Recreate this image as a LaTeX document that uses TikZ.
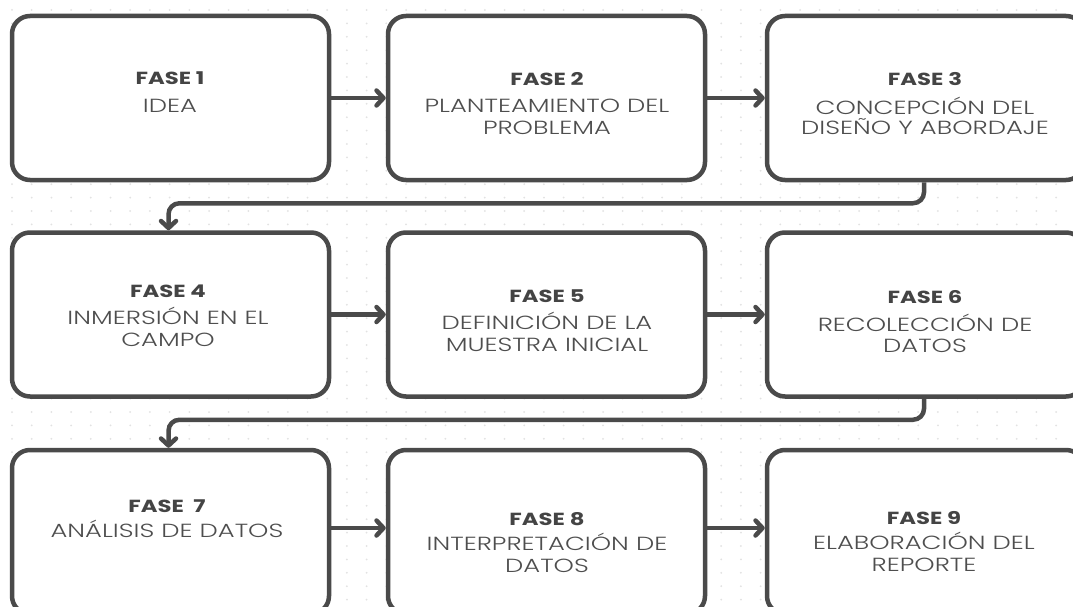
\documentclass[tikz,border=0pt]{standalone}
\usepackage{fontspec}
\usepackage{graphicx}
\setmainfont{Poppins}
\newfontfamily\bodyfont{Poppins Light}
\usetikzlibrary{arrows.meta}
\definecolor{strokec}{HTML}{4A4A4A}
\definecolor{titlec}{HTML}{444444}
\definecolor{bodyc}{HTML}{4E4E4E}
\definecolor{dotc}{HTML}{E2E2E2}
\tikzset{
  box/.style={draw=strokec, line width=4.5pt, fill=white, rounded corners=18pt,
    minimum width=317pt, minimum height=164pt, inner sep=0pt},
  ttl/.style={anchor=base, inner sep=0pt, text=titlec,
    font=\bfseries\fontsize{17.5}{20}\selectfont},
  bdy/.style={anchor=base, inner sep=0pt, text=bodyc,
    font=\bodyfont\fontsize{19}{22}\selectfont},
  arr/.style={draw=strokec, line width=4.5pt,
    -{Straight Barb[length=7pt,width=15pt,line cap=round,line join=round]}},
}
\newcommand{\wtitle}[1]{\scalebox{1.3}[1]{#1}}
\newcommand{\wbody}[1]{\scalebox{1.36}[1]{#1}}
\begin{document}
\begin{tikzpicture}[x=1pt,y=-1pt]
\useasboundingbox (0,0) rectangle (1073,607);
\clip (0,0) rectangle (1073,607);
\fill[white] (0,0) rectangle (1073,607);
\foreach \i in {0,...,54}{
  \foreach \j in {0,...,45}{
    \fill[dotc] (12+\i*19.7, 10+\j*13.4) circle (1);
  }
}
% boxes
\node[box] (b1) at (170.5,98) {};
\node[box] (b2) at (546.5,98) {};
\node[box] (b3) at (925.5,98) {};
\node[box] (b4) at (170.5,314.5) {};
\node[box] (b5) at (546.5,314.5) {};
\node[box] (b6) at (925.5,314.5) {};
\node[box] (b7) at (170.5,532) {};
\node[box] (b8) at (546.5,532) {};
\node[box] (b9) at (925.5,532) {};
% texts
\node[ttl] (t1) at (170,85) {\wtitle{FASE 1}};
\node[bdy] (t1a) at (170,113) {\wbody{IDEA}};
\node[ttl] (t2) at (547,86) {\wtitle{FASE 2}};
\node[bdy] (t2a) at (547,113) {\wbody{PLANTEAMIENTO DEL}};
\node[bdy] (t2b) at (547,135) {\wbody{PROBLEMA}};
\node[ttl] (t3) at (925,86) {\wtitle{FASE 3}};
\node[bdy] (t3a) at (925,114) {\wbody{CONCEPCIÓN DEL}};
\node[bdy] (t3b) at (925,135) {\wbody{DISEÑO Y ABORDAJE}};
\node[ttl] (t4) at (168,297) {\wtitle{FASE 4}};
\node[bdy] (t4a) at (168,324) {\wbody{INMERSIÓN EN EL}};
\node[bdy] (t4b) at (168,346) {\wbody{CAMPO}};
\node[ttl] (t5) at (547,302) {\wtitle{FASE 5}};
\node[bdy] (t5a) at (547,329) {\wbody{DEFINICIÓN DE LA}};
\node[bdy] (t5b) at (547,351) {\wbody{MUESTRA INICIAL}};
\node[ttl] (t6) at (925,303) {\wtitle{FASE 6}};
\node[bdy] (t6a) at (925,331) {\wbody{RECOLECCIÓN DE}};
\node[bdy] (t6b) at (925,352) {\wbody{DATOS}};
\node[ttl] (t7) at (167,512) {\wtitle{FASE\ \ 7}};
\node[bdy] (t7a) at (167,537) {\wbody{ANÁLISIS DE DATOS}};
\node[ttl] (t8) at (547,525) {\wtitle{FASE 8}};
\node[bdy] (t8a) at (547,550) {\wbody{INTERPRETACIÓN DE}};
\node[bdy] (t8b) at (547,572) {\wbody{DATOS}};
\node[ttl] (t9) at (924,524) {\wtitle{FASE 9}};
\node[bdy] (t9a) at (924,549) {\wbody{ELABORACIÓN DEL}};
\node[bdy] (t9b) at (924,571) {\wbody{REPORTE}};
% connectors
\draw[arr] (b1.east) -- (b2.west);
\draw[arr] (b2.east) -- (b3.west);
\draw[arr] (b4.east) -- (b5.west);
\draw[arr] (b5.east) -- (b6.west);
\draw[arr] ([yshift=4pt]b7.east) -- ([yshift=4pt]b8.west);
\draw[arr] ([yshift=4pt]b8.east) -- ([yshift=4pt]b9.west);
\draw[arr, rounded corners=11pt] ([xshift=-1.5pt]b3.south) -- ++(0,21) -| ([xshift=-2pt]b4.north);
\draw[arr, rounded corners=11pt] ([xshift=-1.5pt]b6.south) -- ++(0,21) -| ([xshift=-2pt]b7.north);
\end{tikzpicture}
\end{document}
